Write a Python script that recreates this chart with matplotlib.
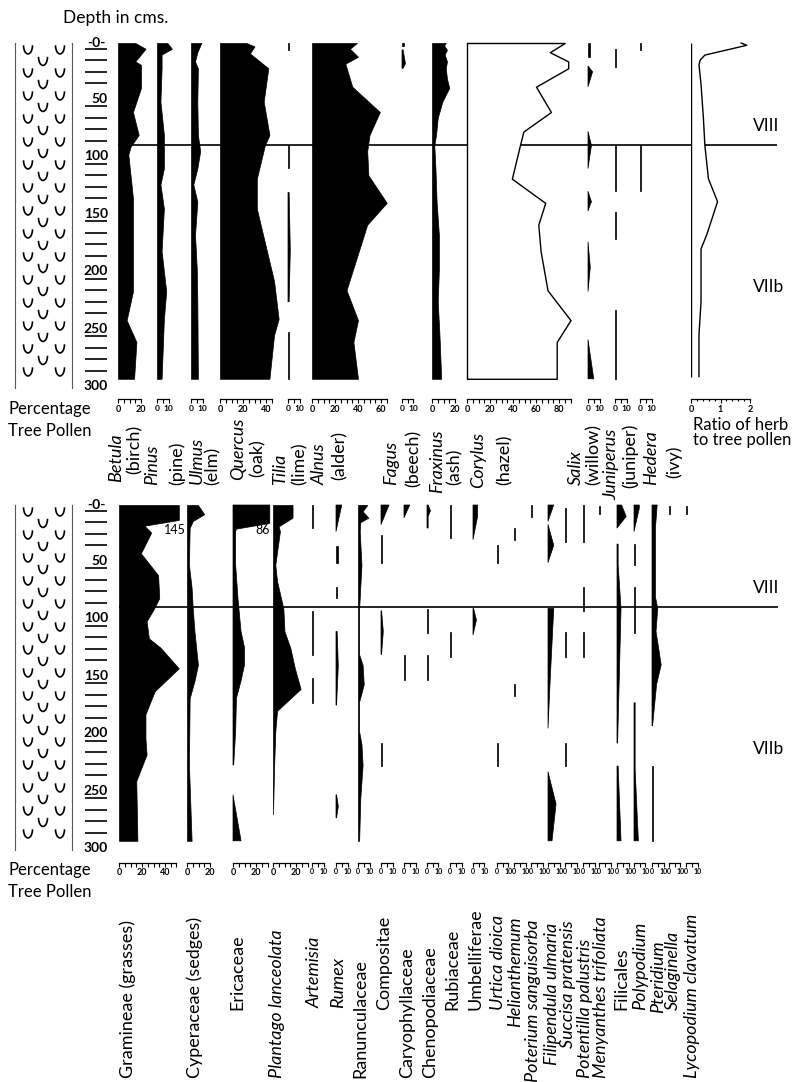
import numpy as np
import matplotlib
matplotlib.use("Agg")
import matplotlib.pyplot as plt
from matplotlib.patches import Arc

plt.rcParams['font.family'] = ['Lato', 'DejaVu Sans']

# ---- tree pollen (top diagram): (depth cm, % tree pollen), None = gap
BETULA = [(0, 15), (5, 24), (16, 15), (19, 20), (39, 20), (60, 13), (80, 18), (90, 11), (97, 9),
          (135, 13), (216, 13), (241, 7.5), (260, 16), (292, 14)]
PINUS = [(0, 9), (5, 13), (10, 4), (22, 4), (51, 3), (80, 6), (109, 6), (123, 3), (144, 6),
         (181, 4), (216, 8), (240, 6), (292, 4)]
ULMUS = [(0, 9), (8, 5.5), (16, 3.5), (22, 6), (51, 5.5), (80, 6), (94, 8), (109, 5.5), (123, 2),
         (138, 5.5), (167, 3.5), (196, 5), (225, 5.5), (292, 6)]
QUERCUS = [(0, 23), (3, 30), (9, 26), (22, 42), (51, 38), (80, 43), (89, 39), (118, 32), (144, 32),
           (207, 47), (240, 51), (254, 47), (292, 43)]
TILIA = [(0, 1), (6, 1), None, (89, 1), (109, 1), None, (130, 1), (180, 2), (225, 1), None,
         (251, 1.2), (292, 1.2)]
ALNUS = [(0, 39), (5, 33), (12, 40), (18, 29), (38, 35), (60, 59), (80, 50), (94, 48), (115, 49),
         (139, 65), (158, 48), (215, 30), (241, 40), (260, 36), (292, 40)]
FAGUS = [(0, 2), (3, 2), None, (6, 1), (18, 3), (22, 1)]
FRAXINUS = [(0, 12), (2, 10.5), (6, 13), (10, 11), (16, 13), (22, 12), (31, 13), (39, 15), (51, 9),
            (65, 5), (80, 3.5), (89, 2), (109, 3), (138, 4), (167, 6), (196, 6), (225, 5),
            (254, 6.5), (292, 8)]
CORYLUS = [(0, 85), (8, 72), (16, 88), (22, 88), (38, 60), (60, 73), (77, 49), (89, 46), (118, 39),
           (139, 68), (158, 62), (181, 64), (215, 70), (241, 90), (260, 78), (292, 78)]
SALIX = [(0, 2), (12, 2), None, (20, 0), (25, 4), (38, 0), None, (77, 0), (89, 3), (109, 0), None,
         (129, 0), (138, 3), (146, 0), None, (173, 0), (195, 2), (216, 0), None, (258, 0), (292, 5)]
JUNIPERUS = [(5, 1), (21, 1), None, (89, 1), (129, 1), None, (147, 1), (170, 1), None, (232, 1), (292, 1)]
HEDERA = [(0, 1), (6, 1), None, (89, 1), (129, 1)]
RATIO = [(0, 1.7), (2, 1.89), (10.5, 0.47), (15, 0.31), (19, 0.27), (36, 0.34), (65, 0.42),
         (89, 0.47), (118, 0.59), (138, 0.9), (167, 0.53), (179, 0.34), (225, 0.34), (254, 0.27),
         (290, 0.27)]

# ---- herbs and spores (bottom diagram)
GRAMINEAE = [(0, 145), (13, 145), (18, 22), (24, 28), (42, 19), (61, 34), (81, 35), (91, 30),
             (101, 24), (116, 26), (124, 36), (142, 52), (162, 31), (182, 23), (203, 23), (217, 24),
             (240, 15), (292, 16)]
CYPERACEAE = [(0, 9.5), (8, 15), (14, 5), (20, 2.3), (52, 1.7), (72, 4), (90, 5), (110, 6.5),
              (139, 9.5), (153, 6.5), (168, 2.3), (226, 1.7), (292, 4)]
ERICACEAE = [(0, 86), (16, 86), (21, 3), (23, 2.3), (52, 2.3), (81, 4.3), (110, 7), (124, 10),
             (139, 10), (153, 7), (168, 3), (197, 2.3), (226, 0.6), None, (252, 0), (292, 7)]
PLANTAGO = [(0, 17), (11, 17), (18.5, 5), (23, 6), (52, 2), (66, 3.5), (90, 9), (110, 10), (124, 15),
            (142, 19), (160, 24), (179, 3.5), (197, 2), (226, 1), (269, 0)]
ARTEMISIA = [(0, 1), (20, 1), None, (92, 1), (130, 1), None, (150, 1), (172, 1)]
RUMEX = [(0, 5), (23, 0), None, (36, 1.5), (50, 1.5), None, (71, 1), (81, 1), None, (110, 1),
         (140, 2), (174, 0.5), None, (252, 0.5), (262, 2), (272, 0.5)]
RANUNCULACEAE = [(0, 8), (5.5, 4), (11, 9), (15, 2), (23, 1.5), (52, 3), (90, 1), (130, 1), (139, 4),
                 (156, 5), (171, 1), (197, 1), (208, 3), (226, 4), (255, 2), (292, 1)]
COMPOSITAE = [(0, 7), (17, 0), None, (26, 1), (50, 1), None, (92, 0.5), (110, 2), (130, 0.5), None,
              (207, 1), (227, 1)]
CARYOPHYLLACEAE = [(0, 5), (11, 0), None, (130, 1), (152, 1)]
CHENOPODIACEAE = [(0, 1), (5, 3), (10, 1), (20, 1), None, (90, 1), (111, 1), None, (130, 1), (152, 1)]
RUBIACEAE = [(0, 1), (29, 1), None, (110, 1), (132, 1)]
UMBELLIFERAE = [(0, 4), (10, 4), (30, 0), None, (90, 0.5), (100, 3), (113, 0)]
URTICA = [(35, 1), (50, 1), None, (207, 1), (227, 1)]
HELIANTHEMUM = [(20, 1), (30, 1), None, (156, 1.2), (166, 1.2)]
POTERIUM = [(0, 1), (10, 1)]
FILIPENDULA = [(0, 5), (14, 0), None, (17, 0), (35, 5), (50, 0), None, (90, 5), (110, 4), (150, 2),
               (194, 0), None, (232, 0), (260, 7), (292, 3.5)]
SUCCISA = [(3, 1), (32, 1), None, (110, 1), (132, 1), None, (207, 1), (227, 1)]
POTENTILLA = [(0, 1), (32, 1), None, (71, 1), (92, 1), None, (110, 1), (132, 1)]
MENYANTHES = [(1, 1), (8, 1)]
FILICALES = [(0, 4), (10, 8), (20, 0), None, (34, 1), (52, 1), (90, 3.5), (150, 2), (207, 0.5), None,
             (227, 1), (292, 3.5)]
POLYPODIUM = [(0, 4.6), (3, 4.6), (23, 0), None, (34, 1), (52, 1), None, (71, 1), (111, 1), None,
              (172, 1), (230, 1), (292, 3.8)]
PTERIDIUM = [(0, 4.5), (20, 3), (80, 3), (90, 5), (110, 3.5), (139, 8), (156, 4), (192, 0.5), None,
             (227, 1), (292, 1)]
SELAGINELLA = [(1, 1), (8, 1)]
LYCOPODIUM = [(1, 1), (8, 1)]

TOP_GENUS = ["Betula", "Pinus", "Ulmus", "Quercus", "Tilia", "Alnus", "Fagus", "Fraxinus",
             "Corylus", "Salix", "Juniperus", "Hedera"]
TOP_COMMON = ["(birch)", "(pine)", "(elm)", "(oak)", "(lime)", "(alder)", "(beech)", "(ash)",
              "(hazel)", "(willow)", "(juniper)", "(ivy)"]
TOP_DATA = [BETULA, PINUS, ULMUS, QUERCUS, TILIA, ALNUS, FAGUS, FRAXINUS, CORYLUS, SALIX,
            JUNIPERUS, HEDERA]
TOP_SCALE = [20, 10, 10, 45, 10, 65, 10, 20, 90, 10, 10, 10]

BOT_NAMES = ["Gramineae (grasses)", "Cyperaceae (sedges)", "Ericaceae", "Plantago lanceolata",
             "Artemisia", "Rumex", "Ranunculaceae", "Compositae", "Caryophyllaceae",
             "Chenopodiaceae", "Rubiaceae", "Umbelliferae", "Urtica dioica", "Helianthemum",
             "Poterium sanguisorba", "Filipendula ulmaria", "Succisa pratensis",
             "Potentilla palustris", "Menyanthes trifoliata", "Filicales", "Polypodium",
             "Pteridium", "Selaginella", "Lycopodium clavatum"]
BOT_ITALIC = [False, False, False, True, True, True, False, False, False, False, False, False,
              True, True, True, True, True, True, True, False, True, True, True, True]
BOT_DATA = [GRAMINEAE, CYPERACEAE, ERICACEAE, PLANTAGO, ARTEMISIA, RUMEX, RANUNCULACEAE,
            COMPOSITAE, CARYOPHYLLACEAE, CHENOPODIACEAE, RUBIACEAE, UMBELLIFERAE, URTICA,
            HELIANTHEMUM, POTERIUM, FILIPENDULA, SUCCISA, POTENTILLA, MENYANTHES, FILICALES,
            POLYPODIUM, PTERIDIUM, SELAGINELLA, LYCOPODIUM]
BOT_SCALE = [50, 20, 30, 30] + [10] * 20
BOT_TRUNC = {"Gramineae (grasses)": 52, "Ericaceae": 32}

ZONE_DEPTH = 89
ZONES = ["VIII", "VIIb"]
ZONE_LABEL_DEPTH = [72, 212]
DEPTH_LABELS = [0, 50, 100, 150, 200, 250, 300]

# ---- layout in pixels
W, H = 802, 1082
PX_PCT = 1.15
PX_CM = 1.15
PX_RATIO = 29.5
TOP_Y0, BOT_Y0 = 43, 505
PANEL_H = 300 * PX_CM

TOP_X0 = [118, 157, 191, 220, 288, 312, 402, 432, 467, 588, 615, 640]
TOP_GENUS_X = [116, 152, 197, 238, 280, 320, 391, 437, 478, 576, 611, 651]
TOP_COMMON_X = [135, 177, 213, 258, 300, 340, 414, 455, 505, 594, 630, 674]
TOP_GENUS_Y = [482, 485, 484, 480, 485, 485, 485, 493, 488, 485, 500, 485]
TOP_COMMON_Y = [474, 485, 485, 477, 485, 480, 487, 485, 485, 485, 488, 478]
RATIO_X0 = 691

BOT_X0 = [119, 187, 233, 273, 312, 336, 358, 381, 404, 427, 450, 473, 497, 514, 531, 548, 565,
          583, 599, 617, 634, 652, 669, 686]
BOT_LABEL_X = [128, 195, 237, 277, 315, 338, 360, 384, 407, 430, 452, 476, 498, 515, 533, 552,
               568, 585, 601, 621, 640, 658, 673, 692]
BOT_LABEL_Y = [1078, 1078, 1010, 1078, 1008, 1008, 1078, 1010, 1078, 1078, 1010, 1010, 1010, 1027,
               1082, 1065, 1048, 1078, 1078, 1010, 1010, 1013, 1010, 1078]
TRUNC_LABEL_X = {"Gramineae (grasses)": 48.5, "Ericaceae": 26}

fig = plt.figure(figsize=(W / 100, H / 100), dpi=100)


def axes_px(x, y, w, h):
    ax = fig.add_axes([x / W, 1 - (y + h) / H, w / W, h / H])
    ax.patch.set_visible(False)
    return ax


def split(points):
    d = np.array([np.nan if p is None else p[0] for p in points], float)
    v = np.array([np.nan if p is None else p[1] for p in points], float)
    return d, v


def scale_axes(ax, scale, outward, major, minor, minor_len=3, labelsize=6.5):
    ax.set_xlim(0, scale)
    ax.set_ylim(300, 0)
    for s in ['top', 'left', 'right']:
        ax.spines[s].set_visible(False)
    ax.spines['bottom'].set_position(('outward', outward))
    ax.spines['bottom'].set_linewidth(0.9)
    ax.set_xticks(np.arange(0, scale + 1e-6, major))
    ax.set_xticks(np.arange(0, scale + 1e-6, minor), minor=True)
    ax.xaxis.set_major_formatter(plt.FuncFormatter(lambda x, p: "%g" % x))
    ax.tick_params(axis='x', which='major', direction='out', length=3, width=0.8, pad=1.2,
                   labelsize=labelsize)
    ax.tick_params(axis='x', which='minor', direction='out', length=minor_len, width=0.8)
    ax.tick_params(axis='y', left=False, labelleft=False)
    plt.setp(ax.get_xticklabels(), fontweight='bold')


def draw_profile(ax, pts, trunc=None, hollow=False):
    d, v = split(pts)
    if trunc is not None:
        v = np.minimum(v, trunc)
    if hollow:
        ax.fill_betweenx(d, 0, v, facecolor='white', edgecolor='black', lw=1.0, clip_on=False)
    else:
        ax.fill_betweenx(d, 0, v, facecolor='black', edgecolor='black', lw=0.5, clip_on=False)


def background(y0, x_start, x_end):
    bg = axes_px(0, y0, W, PANEL_H)
    bg.set_xlim(0, W)
    bg.set_ylim(300, 0)
    bg.axis('off')
    bg.hlines(ZONE_DEPTH, x_start, x_end, color='black', lw=1.2)
    for name, dz in zip(ZONES, ZONE_LABEL_DEPTH):
        bg.text(753, dz, name, ha='left', va='center', fontsize=12.5)


def lithology(y0):
    ax = axes_px(15, y0, 57, PANEL_H)
    ax.set_xlim(0, 57)
    ax.set_ylim(300, 0)
    for s in ['top', 'bottom']:
        ax.spines[s].set_visible(False)
    for s in ['left', 'right']:
        ax.spines[s].set_color('0.35')
        ax.spines[s].set_linewidth(0.8)
    ax.set_xticks([])
    ax.set_yticks([])
    for row, depth in enumerate(np.arange(2, 292, 10)):
        xs = [13, 45] if row % 2 == 0 else [28]
        for x in xs:
            ax.add_patch(Arc((x, depth), 9, 15, theta1=0, theta2=180, lw=1.2, color='black'))


def depth_scale(y0):
    ax = axes_px(80, y0, 32, PANEL_H)
    ax.set_xlim(80, 112)
    ax.set_ylim(300, 0)
    ax.axis('off')
    ticks = [t for t in np.arange(5, 300, 10) if (t + 5) % 50 != 0]
    ax.hlines(ticks, 85, 107, color='black', lw=1.2)
    for d in DEPTH_LABELS:
        if d == 0:
            ax.text(96, d, "-0-", ha='center', va='center', fontsize=10, fontweight='bold')
        else:
            ax.text(108, d - 1.5, str(d), ha='right', va='center', fontsize=10,
                    fontweight='bold')


def side_text(y_first, y_second):
    fig.text(8 / W, 1 - y_first / H, "Percentage", ha='left', va='center', fontsize=12)
    fig.text(8 / W, 1 - y_second / H, "Tree Pollen", ha='left', va='center', fontsize=12)


# ---------------- top diagram
background(TOP_Y0, TOP_X0[0], 777)
lithology(TOP_Y0)
depth_scale(TOP_Y0)
fig.text(63 / W, 1 - 18 / H, "Depth in cms.", ha='left', va='center', fontsize=12.5)
side_text(409, 431)

for i, pts in enumerate(TOP_DATA):
    scale = TOP_SCALE[i]
    ax = axes_px(TOP_X0[i], TOP_Y0, scale * PX_PCT, PANEL_H)
    scale_axes(ax, scale, 8, 10 if scale <= 10 else 20, 5,
               labelsize=6 if scale <= 10 else 6.5)
    draw_profile(ax, pts, hollow=(TOP_GENUS[i] == "Corylus"))
    fig.text(TOP_GENUS_X[i] / W, 1 - TOP_GENUS_Y[i] / H, TOP_GENUS[i], rotation=90,
             ha='center', va='bottom', fontsize=13, style='italic')
    fig.text(TOP_COMMON_X[i] / W, 1 - TOP_COMMON_Y[i] / H, TOP_COMMON[i], rotation=90,
             ha='center', va='bottom', fontsize=13)

ax = axes_px(RATIO_X0, TOP_Y0, 2 * PX_RATIO, PANEL_H)
scale_axes(ax, 2, 8, 1, 0.2, minor_len=1.5)
rd, rv = split(RATIO)
ax.fill_betweenx(rd, 0, rv, facecolor='white', lw=0, clip_on=False)
ax.plot(rv, rd, color='black', lw=1.0, clip_on=False)
ax.vlines(0, np.nanmin(rd), np.nanmax(rd), color='black', lw=1.0)
fig.text(693 / W, 1 - 417 / H, "Ratio of herb\nto tree pollen", ha='left', va='top',
         fontsize=12, linespacing=0.95)

# ---------------- bottom diagram
background(BOT_Y0, BOT_X0[0], 778)
lithology(BOT_Y0)
depth_scale(BOT_Y0)
side_text(870, 892)

for i, pts in enumerate(BOT_DATA):
    name = BOT_NAMES[i]
    scale = BOT_SCALE[i]
    ax = axes_px(BOT_X0[i], BOT_Y0, scale * PX_PCT, PANEL_H)
    scale_axes(ax, scale, 9, 10 if scale <= 10 else 20, 5,
               labelsize=5 if scale <= 10 else 6.5)
    trunc = BOT_TRUNC.get(name)
    draw_profile(ax, pts, trunc=trunc)
    if trunc is not None:
        peak = np.nanmax(split(pts)[1])
        ax.text(TRUNC_LABEL_X[name], 22, "%g" % peak, ha='center', va='center', fontsize=9,
                clip_on=False)
    fig.text(BOT_LABEL_X[i] / W, 1 - BOT_LABEL_Y[i] / H, name, rotation=90, ha='center',
             va='bottom', fontsize=13, style='italic' if BOT_ITALIC[i] else 'normal')

fig.savefig("out.png", dpi=100)
